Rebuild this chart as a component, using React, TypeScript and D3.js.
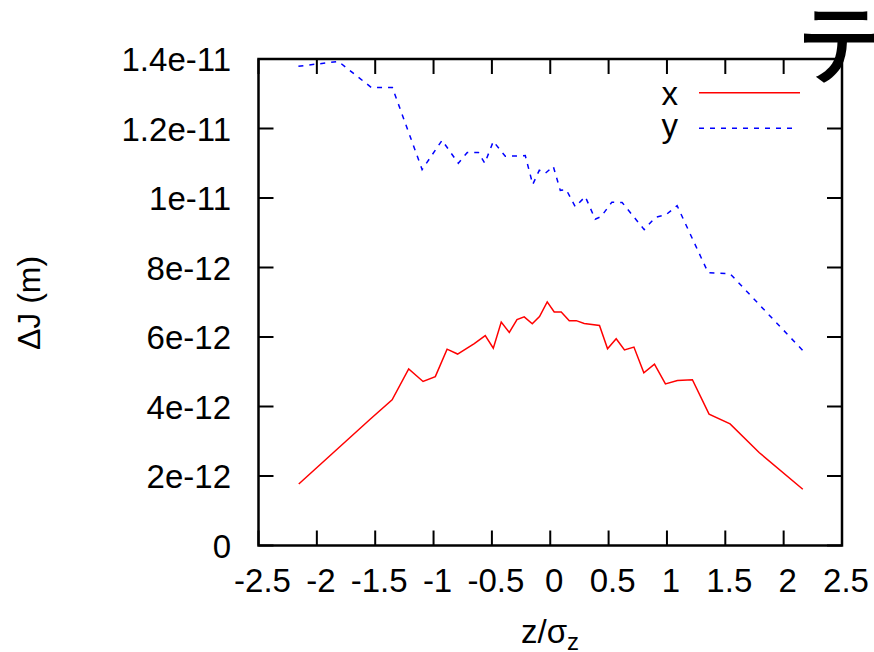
import React from "react";
import * as d3 from "d3";

// data (x in z/sigma_z, y in units of 1e-12 m)
const xSeriesX = [-2.155, -1.541, -1.355, -1.213, -1.09, -0.985, -0.884, -0.794, -0.651, -0.557, -0.488, -0.42, -0.351, -0.285, -0.223, -0.154, -0.092, -0.026, 0.034, 0.094, 0.163, 0.223, 0.291, 0.422, 0.491, 0.565, 0.636, 0.717, 0.802, 0.893, 0.987, 1.09, 1.218, 1.361, 1.541, 1.792, 2.164];
const xSeriesY = [1.77, 3.64, 4.19, 5.08, 4.72, 4.86, 5.65, 5.51, 5.81, 6.04, 5.68, 6.43, 6.13, 6.5, 6.58, 6.38, 6.59, 7.01, 6.72, 6.72, 6.47, 6.47, 6.39, 6.33, 5.66, 5.95, 5.63, 5.71, 4.97, 5.22, 4.65, 4.75, 4.77, 3.78, 3.5, 2.67, 1.62];

const ySeriesX = [-2.158, -1.815, -1.533, -1.353, -1.098, -0.927, -0.788, -0.711, -0.616, -0.561, -0.488, -0.385, -0.214, -0.15, -0.094, -0.043, 0.026, 0.086, 0.137, 0.214, 0.3, 0.385, 0.437, 0.528, 0.616, 0.805, 0.899, 0.993, 1.087, 1.353, 1.541, 2.164];
const ySeriesY = [13.79, 13.93, 13.18, 13.18, 10.82, 11.66, 11.0, 11.31, 11.31, 11.0, 11.63, 11.2, 11.22, 10.39, 10.8, 10.71, 10.91, 10.22, 10.24, 9.75, 10.04, 9.39, 9.47, 9.88, 9.87, 9.09, 9.44, 9.52, 9.78, 7.85, 7.82, 5.61];

const xTicks = [-2.5, -2, -1.5, -1, -0.5, 0, 0.5, 1, 1.5, 2, 2.5];
const xTickLabels = ["-2.5", "-2", "-1.5", "-1", "-0.5", "0", "0.5", "1", "1.5", "2", "2.5"];
const yTicks = [0, 2, 4, 6, 8, 10, 12, 14];
const yTickLabels = ["0", "2e-12", "4e-12", "6e-12", "8e-12", "1e-11", "1.2e-11", "1.4e-11"];
const seriesNames = ["x", "y"];

const FONT = "'Liberation Sans', Arial, Helvetica, sans-serif";

export default function App() {
  const left = 258.5, right = 842, top = 59, bottom = 545.5;
  const x = d3.scaleLinear().domain([-2.5, 2.5]).range([left, right]);
  const y = d3.scaleLinear().domain([0, 14]).range([bottom, top]);
  const line = d3.line<[number, number]>().x(d => x(d[0])).y(d => y(d[1]));
  const redPts: [number, number][] = xSeriesX.map((v, i) => [v, xSeriesY[i]]);
  const bluePts: [number, number][] = ySeriesX.map((v, i) => [v, ySeriesY[i]]);
  const tl = 15;
  return (
    <svg width={874} height={652} style={{ position: "absolute", left: 0, top: 0, background: "#fff" }} fontFamily={FONT}>
      <rect x={0} y={0} width={874} height={652} fill="#fff" />
      {/* ticks */}
      {xTicks.map((t, i) => (
        <g key={"xt" + i}>
          <line x1={x(t)} x2={x(t)} y1={bottom} y2={bottom - tl} stroke="#000" strokeWidth={2} />
          <line x1={x(t)} x2={x(t)} y1={top} y2={top + tl} stroke="#000" strokeWidth={2} />
          <text x={x(t) + 4} y={592} fontSize={33} textAnchor="middle" fill="#000">{xTickLabels[i]}</text>
        </g>
      ))}
      {yTicks.map((t, i) => (
        <g key={"yt" + i}>
          <line x1={left} x2={left + tl} y1={y(t)} y2={y(t)} stroke="#000" strokeWidth={2} />
          <line x1={right} x2={right - tl} y1={y(t)} y2={y(t)} stroke="#000" strokeWidth={2} />
          <text x={231} y={y(t) + 12} fontSize={33} textAnchor="end" fill="#000">{yTickLabels[i]}</text>
        </g>
      ))}
      {/* data */}
      <path d={line(redPts) || ""} fill="none" stroke="#ff0000" strokeWidth={1.5} />
      <path d={line(bluePts) || ""} fill="none" stroke="#0000ff" strokeWidth={1.5} strokeDasharray="5,6" />
      {/* frame */}
      <rect x={left} y={top} width={right - left} height={bottom - top} fill="none" stroke="#000" strokeWidth={2.5} />
      {/* legend */}
      <text x={678} y={105} fontSize={33} textAnchor="end" fill="#000">{seriesNames[0]}</text>
      <line x1={699} x2={800} y1={92.7} y2={92.7} stroke="#ff0000" strokeWidth={1.5} />
      <text x={678} y={137} fontSize={33} textAnchor="end" fill="#000">{seriesNames[1]}</text>
      <line x1={699} x2={794} y1={128.3} y2={128.3} stroke="#0000ff" strokeWidth={1.5} strokeDasharray="5,6" />
      {/* axis titles */}
      <text transform="translate(40,303) rotate(-90)" fontSize={32} textAnchor="middle" fill="#000">ΔJ (m)</text>
      <text x={550} y={643} fontSize={33} textAnchor="middle" fill="#000">
        z/σ<tspan fontSize={24} dy={7}>z</tspan>
      </text>
      {/* top-right glyph */}
      <text x={796} y={77} fontSize={88} fontWeight={500} fontFamily="'Noto Sans CJK JP', sans-serif" fill="#000">テ</text>
    </svg>
  );
}
